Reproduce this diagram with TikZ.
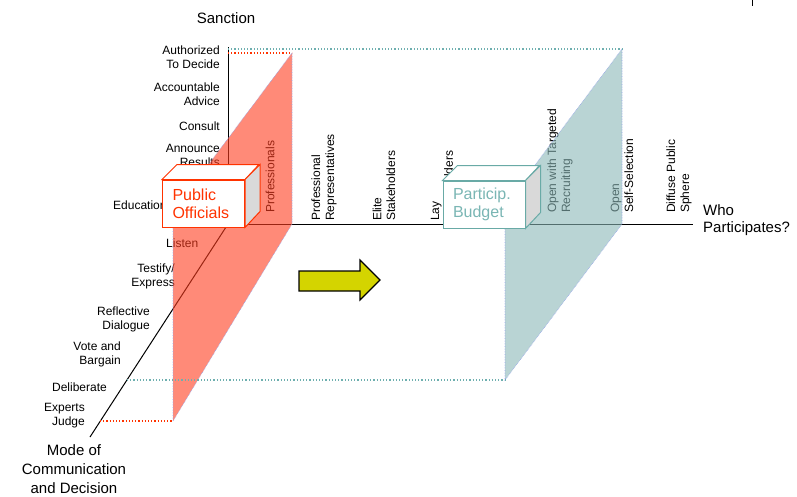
\documentclass[tikz,border=0pt]{standalone}
\usepackage{fontspec}
\setmainfont{Liberation Sans}
\definecolor{offred}{RGB}{255,51,0}
\definecolor{planered}{RGB}{255,60,30}
\definecolor{budteal}{RGB}{105,170,166}
\definecolor{budtext}{RGB}{122,182,180}
\definecolor{planeteal}{RGB}{138,183,183}
\definecolor{dotteal}{RGB}{110,175,175}
\definecolor{planeedge}{RGB}{150,165,235}
\definecolor{arrowyellow}{RGB}{212,212,0}
\begin{document}
\begin{tikzpicture}[x=1pt,y=-1pt]
       \tikzstyle{axis}=[line width=1pt, black]
       \tikzstyle{ticklabel}=[font=\fontsize{12}{13.8}\selectfont, inner sep=0pt]
       \tikzstyle{wholabel}=[font=\fontsize{12}{13.8}\selectfont, inner sep=0pt, align=left, rotate=90, anchor=west]
       \tikzstyle{bigtitle}=[font=\fontsize{15}{18.5}\selectfont, inner sep=0pt]
       \tikzstyle{plane}=[fill opacity=0.6, draw=planeedge, densely dotted, line width=0.6pt]
       \tikzstyle{levelline}=[dotted, line width=1.2pt]
       \tikzstyle{frontface}=[draw, line width=1pt, fill=white, minimum width=82pt, minimum height=47pt,
                              text width=62pt, inner xsep=10pt, align=left, font=\fontsize{16}{18}\selectfont]
       \useasboundingbox (0,0) rectangle (797,496);
       % axes
       \coordinate (origin) at (228,224);
       \coordinate (sanctop) at (228,47);
       \coordinate (whoend) at (693,224);
       \coordinate (modeend) at (90,437);
       \draw[axis] (sanctop) -- (origin) -- (whoend);
       \draw[axis] (origin) -- (modeend);
       \coordinate (marktop) at (752,0);
       \coordinate (markbot) at (752,6);
       \draw[line width=1pt] (marktop) -- (markbot);
       % axis titles
       \node[bigtitle] (sanction) at (226,18) {Sanction};
       \node[bigtitle, anchor=west, align=left, font=\fontsize{15}{17}\selectfont] (who) at (703,220) {Who\\Participates?};
       \node[bigtitle, align=center, font=\fontsize{15}{19}\selectfont] (mode) at (74,469) {Mode of\\Communication\\and Decision};
       % sanction levels
       \node[ticklabel, anchor=east, align=right] (authorized) at (220,57.5) {Authorized\\To Decide};
       \node[ticklabel, anchor=east, align=right] (accountable) at (220,94.5) {Accountable\\Advice};
       \node[ticklabel, anchor=east, align=right] (consult) at (220,126) {Consult};
       \node[ticklabel, anchor=east, align=right] (announce) at (220,155.5) {Announce\\Results};
       \node[ticklabel, anchor=west] (education) at (113,205) {Education};
       % communication levels
       \node[ticklabel, anchor=west] (listen) at (166,243) {Listen};
       \node[ticklabel, anchor=east, align=right] (testify) at (175,276) {Testify/\\Express};
       \node[ticklabel, anchor=east, align=right] (reflective) at (150,319) {Reflective\\Dialogue};
       \node[ticklabel, anchor=east, align=right] (vote) at (121,354) {Vote and\\Bargain};
       \node[ticklabel, anchor=east, align=right] (deliberate) at (107,387) {Deliberate};
       \node[ticklabel, anchor=east, align=right] (experts) at (85,416) {Experts\\Judge};
       % participant levels
       \node[wholabel] (prof) at (270,213) {Professionals};
       \node[wholabel] (profrep) at (324,221) {Professional\\Representatives};
       \node[wholabel] (elite) at (384,221) {Elite\\Stakeholders};
       \node[wholabel] (lay) at (442,221) {Lay\\Stakeholders};
       \node[wholabel] (targeted) at (560,213) {Open with Targeted\\Recruiting};
       \node[wholabel] (selfsel) at (622,213) {Open\\Self-Selection};
       \node[wholabel] (diffuse) at (679,213) {Diffuse Public\\Sphere};
       % planes
       \coordinate (rtop) at (292,53);
       \coordinate (rbot) at (292,224);
       \coordinate (rfar) at (173,421);
       \coordinate (rleft) at (173,212);
       \coordinate (ttop) at (622,49);
       \coordinate (tbot) at (622,224);
       \coordinate (tfar) at (505,380);
       \coordinate (tleft) at (505,205);
       \draw[plane, fill=planered] (rtop) -- (rbot) -- (rfar) -- (rleft) -- cycle;
       \draw[plane, fill=planeteal] (ttop) -- (tbot) -- (tfar) -- (tleft) -- cycle;
       % level lines
       \coordinate (authlevel) at (228,53);
       \coordinate (authlevelt) at (228,49);
       \coordinate (expertlevel) at (100,421);
       \coordinate (delilevel) at (127,380);
       \draw[levelline, offred] (authlevel) -- (rtop);
       \draw[levelline, dotteal] (authlevelt) -- (ttop);
       \draw[levelline, offred] (expertlevel) -- (rfar);
       \draw[levelline, dotteal] (delilevel) -- (tfar);
       % boxes
       \node[frontface, draw=offred, text=offred] (officials) at (203.5,203.5) {Public\\Officials};
       \filldraw[offred, line width=1pt, fill=white] (officials.north west) -- ++(15,-15) -- ++(82,0) -- (officials.north east) -- cycle;
       \filldraw[offred, line width=1pt, fill=black!15] (officials.north east) -- ++(15,-15) -- ++(0,47) -- (officials.south east) -- cycle;
       \node[frontface, draw=budteal, text=budtext] (budget) at (484,204.5) {Particip.\\Budget};
       \filldraw[budteal, line width=1pt, fill=white] (budget.north west) -- ++(15,-15) -- ++(82,0) -- (budget.north east) -- cycle;
       \filldraw[budteal, line width=1pt, fill=black!15] (budget.north east) -- ++(15,-15) -- ++(0,47) -- (budget.south east) -- cycle;
       % shift arrow
       \draw[line width=1.2pt, fill=arrowyellow] (299,271) -- (360,271) -- (360,260) -- (380,280)
             -- (360,300) -- (360,291) -- (299,291) -- cycle;
\end{tikzpicture}
\end{document}
